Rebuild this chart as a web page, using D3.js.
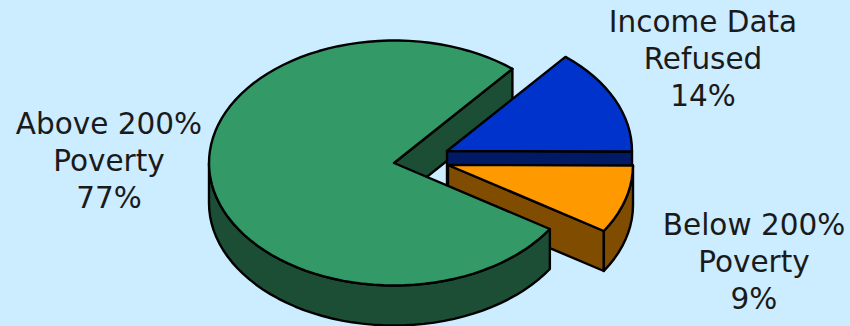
<!DOCTYPE html>
<html>
<head>
<meta charset="utf-8">
<script src="https://cdn.jsdelivr.net/npm/d3@7"></script>
<style>
  html, body { margin: 0; padding: 0; background: #CCECFF; }
  svg { display: block; }
  text { font-family: "DejaVu Sans", Verdana, sans-serif; font-size: 29.5px; fill: #1a1a1a; text-anchor: middle; }
</style>
</head>
<body>
<svg id="chart" width="850" height="326"></svg>
<script>
// Income status of respondents, as a tilted pie with two pulled-out slices.
const categories = ["Above 200% Poverty", "Income Data Refused", "Below 200% Poverty"];
const shares = [77, 14, 9];
const topColors = ["#339966", "#0033CC", "#FF9900"];
const sideColors = ["#1C4E36", "#001A66", "#804D00"];
const labelLines = [
  ["Above 200%", "Poverty", "77%"],
  ["Income Data", "Refused", "14%"],
  ["Below 200%", "Poverty", "9%"]
];
const labelCentres = [[109, 134], [703, 32], [754, 235]];
const sliceCentres = [[394, 163], [447, 151], [448, 165]];

const width = 850, height = 326;
const radiusX = 185, radiusY = 122.5, depth = 40, lineGap = 37;
const degrees = Math.PI / 180;

const svg = d3.select("#chart").attr("viewBox", [0, 0, width, height]);
svg.append("rect").attr("width", width).attr("height", height).attr("fill", "#CCECFF");

const slices = d3.pie().sort(null).startAngle(122.6 * degrees).endAngle((122.6 + 360) * degrees)(shares);

const path = d3.line().curve(d3.curveLinearClosed);

// Project a pie angle (clockwise from 12 o'clock) onto the tilted disc.
const project = (i, angle, drop = 0) => [
  sliceCentres[i][0] + radiusX * Math.sin(angle),
  sliceCentres[i][1] - radiusY * Math.cos(angle) + drop
];

// The rim is drawn as short chords, which gives the edge its slightly faceted line.
const rim = (i, a0, a1, drop = 0) => d3.range(0, 1.0001, 1 / Math.max(2, Math.round((a1 - a0) / (3.2 * degrees))))
  .map(t => project(i, a0 + (a1 - a0) * t, drop));

const draw = (points, fill) => svg.append("path")
  .attr("d", path(points))
  .attr("fill", fill)
  .attr("stroke", "#000")
  .attr("stroke-width", 2.4)
  .attr("stroke-linejoin", "round");

const topFace = i => {
  const apex = sliceCentres[i];
  draw([apex, ...rim(i, slices[i].startAngle, slices[i].endAngle)], topColors[i]);
};

const radialWall = (i, angle) => {
  const apex = sliceCentres[i], tip = project(i, angle);
  draw([apex, tip, [tip[0], tip[1] + depth], [apex[0], apex[1] + depth]], sideColors[i]);
};

const outerWall = (i, a0, a1) => {
  draw([...rim(i, a0, a1), ...rim(i, a0, a1, depth).reverse()], sideColors[i]);
};

const frontEnd = a => Math.min(a, 270 * degrees);

// Painter's order: back wall of the large slice, then both detached slices, then its front.
radialWall(0, slices[0].endAngle);

radialWall(1, slices[1].endAngle);
topFace(1);

radialWall(2, slices[2].endAngle);
outerWall(2, slices[2].startAngle, slices[2].endAngle);
topFace(2);

outerWall(0, slices[0].startAngle, frontEnd(slices[0].endAngle));
topFace(0);

// Category labels with their percentages.
labelLines.forEach((lines, i) => {
  const label = svg.append("text").attr("aria-label", categories[i]);
  lines.forEach((line, n) => {
    label.append("tspan")
      .attr("x", labelCentres[i][0])
      .attr("y", labelCentres[i][1] + n * lineGap)
      .text(line);
  });
});
</script>
</body>
</html>
